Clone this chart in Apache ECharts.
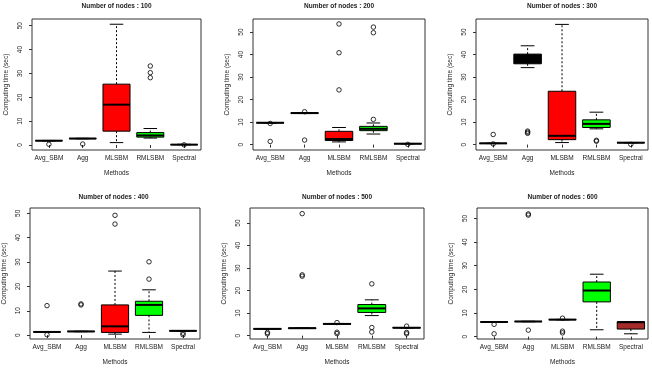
<!DOCTYPE html>
<html>
<head>
<meta charset="utf-8">
<script src="https://cdn.jsdelivr.net/npm/echarts@6/dist/echarts.min.js"></script>
<style>
  html, body { margin: 0; padding: 0; background: #fff; }
  #chart { width: 652px; height: 369px; }
</style>
</head>
<body>
<div id="chart"></div>
<script>
var methods = ['Avg_SBM', 'Agg', 'MLSBM', 'RMLSBM', 'Spectral'];
var nodeCounts = [100, 200, 300, 400, 500, 600];
var yTicks = [0, 10, 20, 30, 40, 50];

// [lower whisker, Q1, median, Q3, upper whisker] per method
var stats100 = [[1.7, 1.75, 1.8, 1.85, 1.9], [2.6, 2.65, 2.7, 2.75, 2.8], [1.0, 5.8, 16.9, 25.5, 50.6], [2.9, 3.3, 4.0, 5.2, 6.9], [0.1, 0.12, 0.15, 0.2, 0.3]];
var stats200 = [[9.6, 9.65, 9.7, 9.75, 9.8], [13.8, 13.9, 14.0, 14.1, 14.2], [1.2, 1.8, 2.5, 5.9, 7.6], [4.7, 6.2, 7.0, 8.1, 9.6], [0.3, 0.35, 0.4, 0.45, 0.5]];
var stats300 = [[0.45, 0.5, 0.55, 0.6, 0.65], [34.2, 35.9, 37.8, 40.2, 43.9], [0.9, 2.2, 3.9, 23.7, 53.4], [7.0, 7.6, 9.2, 11.0, 14.4], [0.75, 0.8, 0.85, 0.9, 0.95]];
var stats400 = [[1.2, 1.25, 1.3, 1.35, 1.4], [1.4, 1.45, 1.5, 1.55, 1.6], [0.4, 1.1, 3.6, 12.4, 26.3], [1.1, 8.1, 12.4, 13.9, 18.6], [1.65, 1.7, 1.75, 1.8, 1.85]];
var stats500 = [[2.9, 2.95, 3.0, 3.05, 3.1], [3.2, 3.25, 3.3, 3.35, 3.4], [5.1, 5.15, 5.2, 5.3, 5.4], [8.9, 10.3, 12.1, 13.8, 15.9], [3.4, 3.45, 3.5, 3.55, 3.6]];
var stats600 = [[6.1, 6.15, 6.2, 6.25, 6.3], [6.3, 6.35, 6.4, 6.45, 6.5], [7.1, 7.15, 7.2, 7.25, 7.3], [2.9, 14.7, 19.5, 23.1, 26.4], [1.2, 3.2, 6.1, 6.3, 6.3]];

// outliers: [method index, value]
var outliers100 = [[0, 0.3], [1, 0.4], [3, 28.2], [3, 30.3], [3, 33.1], [4, 0.05]];
var outliers200 = [[0, 9.4], [0, 1.4], [1, 14.6], [1, 2.0], [2, 53.6], [2, 40.8], [2, 24.3], [3, 52.2], [3, 49.7], [3, 11.2], [4, 0.1]];
var outliers300 = [[0, 4.5], [0, 0.3], [1, 5.0], [1, 5.5], [1, 6.0], [3, 1.5], [3, 1.9], [4, 0.1]];
var outliers400 = [[0, 12.1], [0, 0.15], [1, 12.4], [1, 12.8], [2, 49.2], [2, 45.6], [3, 30.1], [3, 23.0], [4, 0.8], [4, 0.15]];
var outliers500 = [[0, 1.4], [0, 0.8], [1, 54.2], [1, 27.0], [1, 26.4], [2, 5.8], [2, 1.5], [2, 0.9], [3, 23.0], [3, 3.6], [3, 1.6], [4, 4.2], [4, 1.4], [4, 0.8]];
var outliers600 = [[0, 5.2], [0, 1.2], [1, 2.75], [1, 51.4], [1, 51.9], [2, 7.8], [2, 2.3], [2, 1.6]];

var allStats = [stats100, stats200, stats300, stats400, stats500, stats600];
var allOutliers = [outliers100, outliers200, outliers300, outliers400, outliers500, outliers600];

// layout / styling (px)
var boxColors = ['#ffffff', '#000000', '#ff0000', '#00ff00', '#a52a2a'];
var grids = [
  { left: 32, top: 19, width: 169, height: 131 },
  { left: 253, top: 19, width: 172, height: 131 },
  { left: 476, top: 19, width: 172, height: 131 },
  { left: 27, top: 208, width: 173, height: 131 },
  { left: 250, top: 208, width: 174, height: 131 },
  { left: 477, top: 208, width: 171, height: 131 }
];
var titleTops = [3, 3, 3, 194, 194, 194];
var yRanges = [[-2.1, 52.8], [-2.4, 55.8], [-2.4, 55.8], [-1.6, 52.2], [-1.5, 56.7], [-1.0, 54.4]];

var font = 'Liberation Sans, Arial, sans-serif';
var txt = '#222';

function renderBox(params, api) {
  var i = api.value(0);
  var lo = api.coord([i, api.value(1)]);
  var q1 = api.coord([i, api.value(2)]);
  var md = api.coord([i, api.value(3)]);
  var q3 = api.coord([i, api.value(4)]);
  var hi = api.coord([i, api.value(5)]);
  var bw = api.size([1, 0])[0];
  var half = bw * 0.4, cap = bw * 0.2;
  var x = lo[0];
  var dash = { stroke: '#000', lineWidth: 1, lineDash: [2, 2] };
  var solid = { stroke: '#000', lineWidth: 1 };
  return {
    type: 'group',
    children: [
      { type: 'line', shape: { x1: x, y1: q3[1], x2: x, y2: hi[1] }, style: dash },
      { type: 'line', shape: { x1: x, y1: q1[1], x2: x, y2: lo[1] }, style: dash },
      { type: 'line', shape: { x1: x - cap, y1: hi[1], x2: x + cap, y2: hi[1] }, style: solid },
      { type: 'line', shape: { x1: x - cap, y1: lo[1], x2: x + cap, y2: lo[1] }, style: solid },
      { type: 'rect', shape: { x: x - half, y: q3[1], width: 2 * half, height: q1[1] - q3[1] },
        style: { fill: boxColors[i], stroke: '#000', lineWidth: 1 } },
      { type: 'line', shape: { x1: x - half, y1: md[1], x2: x + half, y2: md[1] },
        style: { stroke: '#000', lineWidth: 2 } }
    ]
  };
}

var option = {
  animation: false,
  backgroundColor: '#fff',
  textStyle: { fontFamily: font },
  title: [],
  grid: [],
  xAxis: [],
  yAxis: [],
  series: []
};

for (var p = 0; p < 6; p++) {
  var g = grids[p];
  option.title.push({
    text: 'Number of nodes : ' + nodeCounts[p],
    left: g.left + g.width / 2,
    top: titleTops[p],
    padding: 0,
    textAlign: 'center',
    textStyle: { fontSize: 6.5, fontWeight: 'bold', color: txt, fontFamily: font }
  });
  option.grid.push({
    left: g.left, top: g.top, width: g.width, height: g.height,
    show: true, borderColor: '#333', borderWidth: 1, backgroundColor: 'transparent'
  });
  option.xAxis.push({
    type: 'category', gridIndex: p, data: methods,
    axisLine: { show: false },
    axisTick: { show: true, alignWithLabel: true, length: 3, lineStyle: { color: '#333' } },
    axisLabel: { interval: 0, fontSize: 6.5, color: txt, margin: 5, fontFamily: font },
    splitLine: { show: false },
    name: 'Methods', nameLocation: 'middle', nameGap: 20,
    nameTextStyle: { fontSize: 6.5, color: txt, fontFamily: font }
  });
  option.yAxis.push({
    type: 'value', gridIndex: p, min: yRanges[p][0], max: yRanges[p][1],
    axisLine: { show: false },
    splitLine: { show: false },
    axisTick: { show: true, length: 3, customValues: yTicks, lineStyle: { color: '#333' } },
    axisLabel: { customValues: yTicks, rotate: 90, fontSize: 6.5, color: txt, margin: 8, fontFamily: font },
    name: 'Computing time (sec)', nameLocation: 'middle', nameGap: 22,
    nameTextStyle: { fontSize: 6.5, color: txt, fontFamily: font }
  });
  option.series.push({
    type: 'custom', xAxisIndex: p, yAxisIndex: p,
    renderItem: renderBox,
    encode: { x: 0, y: [1, 2, 3, 4, 5] },
    data: allStats[p].map(function (s, i) { return [i].concat(s); }),
    z: 2
  });
  option.series.push({
    type: 'scatter', xAxisIndex: p, yAxisIndex: p,
    symbol: 'circle', symbolSize: 4.5,
    itemStyle: { color: 'rgba(0,0,0,0)', borderColor: '#000', borderWidth: 1 },
    data: allOutliers[p],
    z: 3
  });
}

var chart = echarts.init(document.getElementById('chart'));
chart.setOption(option);
</script>
</body>
</html>
